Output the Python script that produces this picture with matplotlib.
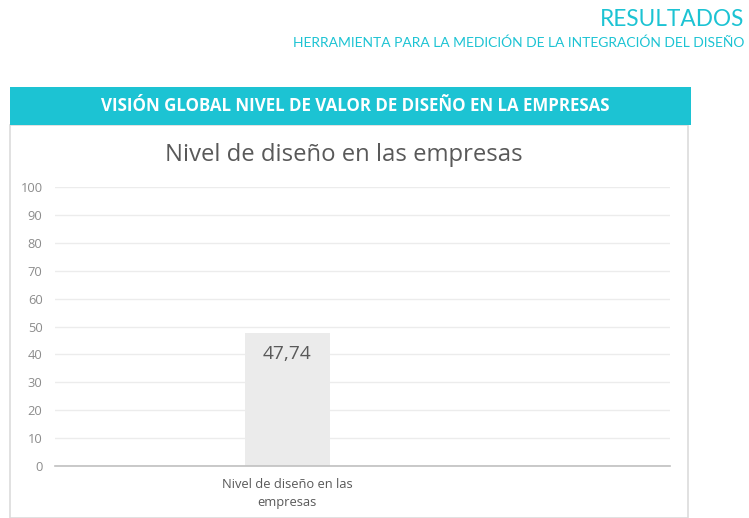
import matplotlib
matplotlib.use("Agg")
import matplotlib.pyplot as plt
from matplotlib.patches import Rectangle

# chart data
categories = ["Nivel de diseño en las\nempresas"]
values = [47.74]
y_ticks = [0, 10, 20, 30, 40, 50, 60, 70, 80, 90, 100]

header = "RESULTADOS"
subheader = "HERRAMIENTA PARA LA MEDICIÓN DE LA INTEGRACIÓN DEL DISEÑO"
band_title = "VISIÓN GLOBAL NIVEL DE VALOR DE DISEÑO EN LA EMPRESAS"
chart_title = "Nivel de diseño en las empresas"

W, H = 749, 518
CYAN = "#1cc3d3"
GREY_TXT = "#595959"

plt.rcParams["font.family"] = ["Open Sans", "DejaVu Sans"]

fig = plt.figure(figsize=(W / 100, H / 100), dpi=100)
fig.patch.set_facecolor("white")


def fx(px):
    return px / W


def fy(py):
    # pixel row from top -> figure fraction
    return 1 - py / H


# page header
fig.text(fx(744), fy(20), header, ha="right", va="center", fontsize=16.3,
         color=CYAN, family=["Lato", "DejaVu Sans"])
fig.text(fx(744), fy(43), subheader, ha="right", va="center", fontsize=10.0,
         color=CYAN, family=["Lato", "DejaVu Sans"])

# white panel with thin border
fig.patches.append(Rectangle((fx(10), fy(518)), fx(678), fy(125) - fy(518),
                             transform=fig.transFigure, facecolor="white",
                             edgecolor="#dcdcdc", linewidth=1.2, zorder=0))
# cyan title band
fig.patches.append(Rectangle((fx(10), fy(125)), fx(681), fy(87) - fy(125),
                             transform=fig.transFigure, facecolor=CYAN,
                             edgecolor="none", zorder=1))
fig.text(fx(355), fy(106), band_title, ha="center", va="center",
         fontsize=12.2, fontweight="bold", color="white")

fig.text(fx(344), fy(155), chart_title, ha="center", va="center",
         fontsize=17.2, color=GREY_TXT)

# bar chart area
ax = fig.add_axes([fx(55), fy(466), fx(615), fy(187) - fy(466)])
ax.set_zorder(5)
ax.set_facecolor("none")
x = list(range(len(categories)))
bars = ax.bar(x, values, width=1.0, color="#ebebeb", zorder=2)
ax.set_ylim(0, 100)
ax.set_xlim(-2.73, 4.5)
ax.set_yticks(y_ticks)
ax.set_xticks(x)
ax.set_xticklabels(categories, fontsize=9.3, color=GREY_TXT, linespacing=1.45)
ax.tick_params(axis="y", length=0, labelsize=9.3, labelcolor="#8c8c8c", pad=9)
ax.tick_params(axis="x", length=0, pad=9)
ax.grid(axis="y", color="#ececec", linewidth=1, zorder=1)
for s in ["top", "right", "left"]:
    ax.spines[s].set_visible(False)
ax.spines["bottom"].set_color("#c0c0c0")
ax.spines["bottom"].set_linewidth(1.2)
ax.spines["bottom"].set_zorder(3)

for b, v in zip(bars, values):
    ax.text(b.get_x() + b.get_width() / 2, v - 7.5,
            f"{v:.2f}".replace(".", ","), ha="center", va="center",
            fontsize=13.8, color=GREY_TXT, zorder=4)

fig.savefig("out.png", dpi=100)
